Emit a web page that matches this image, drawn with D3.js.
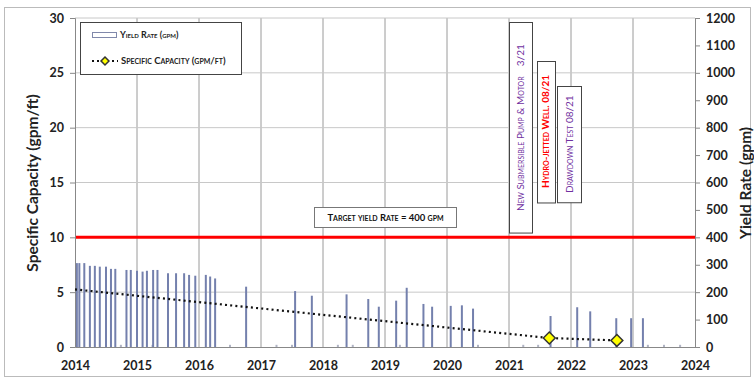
<!DOCTYPE html>
<html>
<head>
<meta charset="utf-8">
<script src="https://cdn.jsdelivr.net/npm/d3@7"></script>
<style>
  body { margin: 0; background: #fff; }
  svg { display: block; }
  text { font-family: Lato, "Open Sans", sans-serif; }
  .sc { font-variant: small-caps; }
</style>
</head>
<body>
<div id="chart"></div>
<script>
// yield rate readings (decimal year, gpm)
var barYears = [2014.03, 2014.07, 2014.15, 2014.24, 2014.32, 2014.40, 2014.50, 2014.58, 2014.65, 2014.74,
  2014.83, 2014.90, 2015.00, 2015.09, 2015.16, 2015.25, 2015.26, 2015.33, 2015.50, 2015.63, 2015.76,
  2015.84, 2015.94, 2016.11, 2016.18, 2016.26, 2016.50, 2016.76, 2017.25, 2017.50, 2017.55, 2017.82,
  2018.24, 2018.38, 2018.48, 2018.73, 2018.90, 2019.18, 2019.24, 2019.35, 2019.62, 2019.76, 2020.06,
  2020.24, 2020.42, 2020.50, 2021.23, 2021.47, 2021.67, 2022.10, 2022.31, 2022.73, 2022.97, 2023.16,
  2023.24, 2023.50, 2023.76];
var barValues = [306, 306, 306, 296, 296, 293, 293, 285, 285, 8,
  281, 281, 278, 275, 278, 8, 281, 281, 269, 269, 269,
  263, 260, 263, 257, 250, 8, 220, 8, 8, 204, 187,
  8, 192, 8, 175, 147, 169, 8, 216, 157, 147, 150,
  152, 140, 8, 8, 8, 113, 145, 130, 105, 105, 105,
  8, 8, 8];

// specific capacity (gpm/ft)
var scYears = [2014.0, 2021.65, 2022.74];
var scValues = [5.25, 0.82, 0.6];
var scMarker = [false, true, true];

var targetYield = 400;
var xTicks = [2014, 2015, 2016, 2017, 2018, 2019, 2020, 2021, 2022, 2023, 2024];
var leftTicks = [0, 5, 10, 15, 20, 25, 30];
var rightTicks = [0, 100, 200, 300, 400, 500, 600, 700, 800, 900, 1000, 1100, 1200];

// event notes: x in years, top/bottom in left-axis units
var noteText = ["New Submersible Pump & Motor\u00a0\u00a0\u00a0 3/21", "Hydro-jetted Well. 08/21", "Drawdown Test 08/21"];
var noteYear = [2021.19, 2021.59, 2021.97];
var noteTop = [29.6, 26.1, 23.8];
var noteBottom = [10.4, 13.2, 13.2];
var noteColor = ["#7030a0", "#ff0000", "#7030a0"];
var noteBold = [false, true, false];

var width = 754, height = 380;
var pLeft = 75, pRight = 695, pTop = 18, pBottom = 347;

var svg = d3.select("#chart").append("svg").attr("width", width).attr("height", height);

svg.append("rect").attr("x", 4.5).attr("y", 7.5).attr("width", 746).attr("height", 369)
  .attr("fill", "none").attr("stroke", "#bbb");

var x = d3.scaleLinear().domain([2014, 2024]).range([pLeft, pRight]);
var yL = d3.scaleLinear().domain([0, 30]).range([pBottom, pTop]);
var yR = d3.scaleLinear().domain([0, 1200]).range([pBottom, pTop]);

// grid
svg.append("g").selectAll("line").data(xTicks.slice(1, -1)).enter().append("line")
  .attr("x1", function(d) { return x(d); }).attr("x2", function(d) { return x(d); })
  .attr("y1", pTop).attr("y2", pBottom).attr("stroke", "#9a9a9a").attr("stroke-width", 1);
svg.append("g").selectAll("line").data(leftTicks.slice(1, -1)).enter().append("line")
  .attr("x1", pLeft).attr("x2", pRight)
  .attr("y1", function(d) { return yL(d); }).attr("y2", function(d) { return yL(d); })
  .attr("stroke", "#c8c8c8").attr("stroke-width", 1);
svg.append("line").attr("x1", pLeft).attr("x2", pRight).attr("y1", pTop).attr("y2", pTop)
  .attr("stroke", "#c8c8c8");

// bars
svg.append("g").selectAll("rect").data(barYears).enter().append("rect")
  .attr("x", function(d) { return x(d) - 1; })
  .attr("width", 2)
  .attr("y", function(d, i) { return yR(barValues[i]); })
  .attr("height", function(d, i) { return pBottom - yR(barValues[i]); })
  .attr("fill", function(d, i) { return barValues[i] < 20 ? "#b0b4c4" : "#7480ad"; });

// target line
svg.append("line").attr("x1", pLeft).attr("x2", pRight)
  .attr("y1", yR(targetYield)).attr("y2", yR(targetYield))
  .attr("stroke", "#ff0000").attr("stroke-width", 3);

// axes
var xAxis = svg.append("g").attr("transform", "translate(0," + pBottom + ")")
  .call(d3.axisBottom(x).tickValues(xTicks).tickFormat(d3.format("d")).tickSize(0).tickPadding(14));
var yAxisL = svg.append("g").attr("transform", "translate(" + pLeft + ",0)")
  .call(d3.axisLeft(yL).tickValues(leftTicks).tickSize(5).tickPadding(6));
var yAxisR = svg.append("g").attr("transform", "translate(" + pRight + ",0)")
  .call(d3.axisRight(yR).tickValues(rightTicks).tickFormat(d3.format("d")).tickSize(5).tickPadding(6));
[xAxis, yAxisL, yAxisR].forEach(function(g) {
  g.select(".domain").attr("stroke", "#888");
  g.selectAll(".tick line").attr("stroke", "#888");
  g.selectAll(".tick text").attr("font-family", "Lato, sans-serif")
    .attr("font-size", 12.5).attr("font-weight", "bold").attr("fill", "#222");
});

// specific capacity
svg.append("path").datum(scYears)
  .attr("d", d3.line().x(function(d) { return x(d); }).y(function(d, i) { return yL(scValues[i]); }))
  .attr("fill", "none").attr("stroke", "#111").attr("stroke-width", 2.2).attr("stroke-dasharray", "2,3.2");
var diamond = d3.symbol().type(d3.symbolDiamond2).size(90);
svg.append("g").selectAll("path").data(scYears.filter(function(d, i) { return scMarker[i]; }))
  .enter().append("path")
  .attr("d", diamond)
  .attr("transform", function(d) {
    var i = scYears.indexOf(d);
    return "translate(" + x(d) + "," + yL(scValues[i]) + ")";
  })
  .attr("fill", "#ffff00").attr("stroke", "#333").attr("stroke-width", 1.5);

// axis titles
svg.append("text").attr("transform", "translate(38,183) rotate(-90)")
  .attr("text-anchor", "middle").attr("font-size", 15.5).attr("font-weight", "bold")
  .attr("fill", "#222").text("Specific Capacity (gpm/ft)");
svg.append("text").attr("transform", "translate(751,183) rotate(-90)")
  .attr("text-anchor", "middle").attr("font-size", 15.5).attr("font-weight", "bold")
  .attr("fill", "#222").text("Yield Rate (gpm)");

// legend
var lg = svg.append("g");
lg.append("rect").attr("x", 80.5).attr("y", 22.5).attr("width", 161).attr("height", 52)
  .attr("fill", "#fff").attr("stroke", "#444").attr("stroke-width", 1);
lg.append("rect").attr("x", 92.5).attr("y", 32.5).attr("width", 24).attr("height", 5)
  .attr("fill", "#fff").attr("stroke", "#8088aa");
lg.append("text").attr("class", "sc").attr("x", 120).attr("y", 38).attr("font-size", 9)
  .attr("fill", "#222").attr("font-weight", "bold").text("Yield Rate (gpm)");
lg.append("line").attr("x1", 92).attr("x2", 118).attr("y1", 61).attr("y2", 61)
  .attr("stroke", "#111").attr("stroke-width", 2.2).attr("stroke-dasharray", "2,3");
lg.append("path").attr("d", d3.symbol().type(d3.symbolDiamond2).size(40))
  .attr("transform", "translate(105,61)")
  .attr("fill", "#ffff00").attr("stroke", "#333").attr("stroke-width", 1.5);
lg.append("text").attr("class", "sc").attr("x", 121).attr("y", 64).attr("font-size", 9.5)
  .attr("fill", "#222").attr("font-weight", "bold").text("Specific Capacity (gpm/ft)");

// target note
svg.append("rect").attr("x", 314.5).attr("y", 207.5).attr("width", 142).attr("height", 20)
  .attr("fill", "#fff").attr("stroke", "#777");
svg.append("text").attr("class", "sc").attr("x", 385.5).attr("y", 221).attr("text-anchor", "middle")
  .attr("font-size", 9.5).attr("font-weight", "bold").attr("fill", "#111")
  .text("Target yield Rate = 400 gpm");

// event notes
var noteWidths = [23, 18, 24];
noteText.forEach(function(t, i) {
  var cx = x(noteYear[i]), y0 = yL(noteTop[i]), y1 = yL(noteBottom[i]);
  svg.append("rect").attr("x", Math.round(cx - noteWidths[i] / 2) + 0.5).attr("y", Math.round(y0) + 0.5)
    .attr("width", noteWidths[i]).attr("height", y1 - y0)
    .attr("fill", "#fff").attr("stroke", "#444").attr("stroke-width", 1);
  svg.append("text").attr("class", "sc")
    .attr("transform", "translate(" + (cx + 3.5) + "," + ((y0 + y1) / 2) + ") rotate(-90)")
    .attr("text-anchor", "middle").attr("font-size", 10)
    .attr("font-weight", noteBold[i] ? "bold" : "normal")
    .attr("fill", noteColor[i]).text(t);
});
</script>
</body>
</html>
